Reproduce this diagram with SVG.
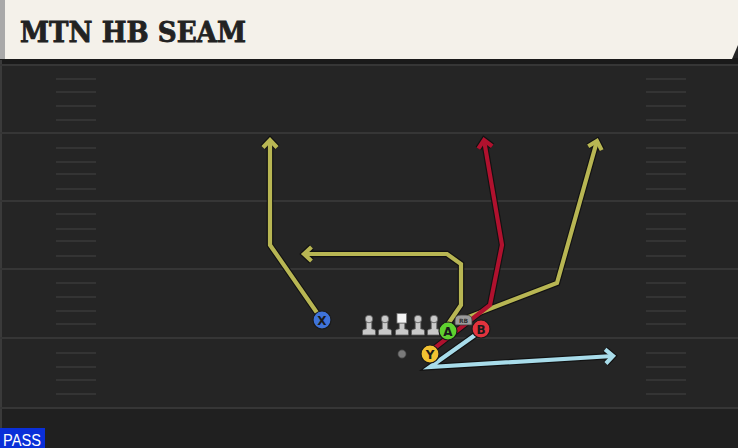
<svg xmlns="http://www.w3.org/2000/svg" width="738" height="448" viewBox="0 0 738 448">
<style>
.fl{stroke:#363636;stroke-width:2}
.hm{stroke:#3a3a3a;stroke-width:1.5}
.ol{fill:none;stroke:#121212;stroke-width:6.5;stroke-linejoin:miter;stroke-linecap:butt}
.rt{fill:none;stroke-width:4.2;stroke-linejoin:miter;stroke-linecap:butt}
.olive{stroke:#b8b653}
.red{stroke:#b0112e}
.blue{stroke:#a8dcea}
.ln{fill:#c9c9c9;stroke:#5a5a5a;stroke-width:0.8}
.pc{stroke:#1a1a1a;stroke-width:1.2}
.lt{font-family:"DejaVu Sans","Liberation Sans",sans-serif;font-weight:bold;font-size:12px;fill:#1a1a1a;text-anchor:middle}
</style>
<defs>
<marker id="mo" markerUnits="userSpaceOnUse" markerWidth="30" markerHeight="30" refX="0" refY="0" orient="auto" overflow="visible"><path d="M-7.5,-7 L0,0 L-7.5,7" fill="none" stroke="#121212" stroke-width="6.5"/></marker>
<marker id="mol" markerUnits="userSpaceOnUse" markerWidth="30" markerHeight="30" refX="0" refY="0" orient="auto" overflow="visible"><path d="M-7.5,-7 L0,0 L-7.5,7" fill="none" stroke="#b8b653" stroke-width="4.2"/></marker>
<marker id="mre" markerUnits="userSpaceOnUse" markerWidth="30" markerHeight="30" refX="0" refY="0" orient="auto" overflow="visible"><path d="M-7.5,-7 L0,0 L-7.5,7" fill="none" stroke="#b0112e" stroke-width="4.2"/></marker>
<marker id="mbl" markerUnits="userSpaceOnUse" markerWidth="30" markerHeight="30" refX="0" refY="0" orient="auto" overflow="visible"><path d="M-7.5,-7 L0,0 L-7.5,7" fill="none" stroke="#a8dcea" stroke-width="4.2"/></marker>
<g id="lineman"><path class="ln" d="M-6.5,16 L-6.5,12 Q-6.5,10 -3.5,10 L-2.8,10 L-2.8,3 L2.8,3 L2.8,10 L3.5,10 Q6.5,10 6.5,12 L6.5,16 Z"/><circle class="ln" cx="0" cy="0" r="3.8"/></g>
</defs>
<!-- background -->
<rect x="0" y="0" width="738" height="448" fill="#252525"/>
<rect x="0" y="408" width="738" height="40" fill="#202020"/>
<rect x="0" y="58" width="738" height="7" fill="#1a1a1a"/>
<line x1="1" y1="60" x2="1" y2="448" stroke="#3a3a3a" stroke-width="2"/>
<g id="field">
<line class="fl" x1="0" y1="65" x2="738" y2="65"/>
<line class="fl" x1="0" y1="133" x2="738" y2="133"/>
<line class="fl" x1="0" y1="201" x2="738" y2="201"/>
<line class="fl" x1="0" y1="269" x2="738" y2="269"/>
<line class="fl" x1="0" y1="338" x2="738" y2="338"/>
<line class="fl" x1="0" y1="408" x2="738" y2="408"/>
<path class="hm" d="M56,79H96M56,92H96M56,106H96M56,120H96M56,148H96M56,162H96M56,174H96M56,189H96M56,214H96M56,229H96M56,241H96M56,256H96M56,283H96M56,297H96M56,311H96M56,324H96M56,353H96M56,367H96M56,380H96M56,394H96"/>
<path class="hm" d="M646,79H686M646,92H686M646,106H686M646,120H686M646,148H686M646,162H686M646,174H686M646,189H686M646,214H686M646,229H686M646,241H686M646,256H686M646,283H686M646,297H686M646,311H686M646,324H686M646,353H686M646,367H686M646,380H686M646,394H686"/>
</g>
<!-- header -->
<g id="header">
<path d="M0,0 H738 V45 L732,59 H0 Z" fill="#f4f1ea"/>
<rect x="0" y="0" width="5" height="59" fill="#a9a9a9"/>
<text x="20" y="42" font-family="'DejaVu Serif','Liberation Serif',serif" font-weight="900" font-size="27" fill="#222" stroke="#222" stroke-width="0.8" textLength="226" lengthAdjust="spacingAndGlyphs">MTN HB SEAM</text>
</g>
<!-- connectors -->
<g id="routes">
<path class="ol" d="M322,320 L270,245 L270,140" marker-end="url(#mo)"/>
<path class="ol" d="M448,324 L461,305 L461,264 L447,254 L304,254" marker-end="url(#mo)"/>
<path class="ol" d="M466,318 L557,283 L597,141" marker-end="url(#mo)"/>
<path class="ol" d="M432,350 L490,305 L502,245 L484,140" marker-end="url(#mo)"/>
<path class="ol" d="M478,333 L430,367 L613,356" marker-end="url(#mo)"/>
<path class="rt olive" d="M322,320 L270,245 L270,140" marker-end="url(#mol)"/>
<path class="rt olive" d="M448,324 L461,305 L461,264 L447,254 L304,254" marker-end="url(#mol)"/>
<path class="rt olive" d="M466,318 L557,283 L597,141" marker-end="url(#mol)"/>
<path class="rt red" d="M432,350 L490,305 L502,245 L484,140" marker-end="url(#mre)"/>
<path class="rt blue" d="M478,333 L430,367 L613,356" marker-end="url(#mbl)"/>
</g>
<!-- line -->
<g id="LT"><use href="#lineman" x="369" y="319"/></g>
<g id="LG"><use href="#lineman" x="385" y="319"/></g>
<g id="C"><path class="ln" d="M395.5,335 L395.5,331 Q395.5,329 398.5,329 L399.2,329 L399.2,323 L404.8,323 L404.8,329 L405.5,329 Q408.5,329 408.5,331 L408.5,335 Z"/><rect x="397" y="313.5" width="9.5" height="9.5" fill="#f4f4f4" stroke="#777" stroke-width="0.8"/></g>
<g id="RG"><use href="#lineman" x="418" y="319"/></g>
<g id="RT"><use href="#lineman" x="434" y="319"/></g>
<g id="QB"><circle cx="402" cy="354" r="4.2" fill="#7a7a7a" stroke="#333" stroke-width="0.8"/></g>
<g id="RB"><path d="M455,325 V320 Q455,315 461,315 H466 Q472,315 472,320 V325 Z" fill="#9c9c9c" stroke="#3a3a3a" stroke-width="0.8"/><text x="463.5" y="323.3" font-family="'DejaVu Sans',sans-serif" font-size="6" font-weight="bold" fill="#333" text-anchor="middle">RB</text></g>
<g id="X"><circle class="pc" cx="322" cy="320" r="9" fill="#3f73d9"/><text class="lt" x="322" y="324.5">X</text></g>
<g id="Y"><circle class="pc" cx="430" cy="354" r="9" fill="#f2c232"/><text class="lt" x="430" y="358.5">Y</text></g>
<g id="A"><circle class="pc" cx="448" cy="331" r="9" fill="#5fd12f"/><text class="lt" x="448" y="335.5">A</text></g>
<g id="B"><circle class="pc" cx="481" cy="329" r="9" fill="#e2333d"/><text class="lt" x="481" y="333.5">B</text></g>
<g id="pass"><rect x="0" y="428" width="45" height="20" fill="#0a2fd8"/><text x="3" y="446" font-family="'Liberation Sans',Arial,sans-serif" font-size="16" fill="#fff" textLength="38" lengthAdjust="spacingAndGlyphs">PASS</text></g>
</svg>
